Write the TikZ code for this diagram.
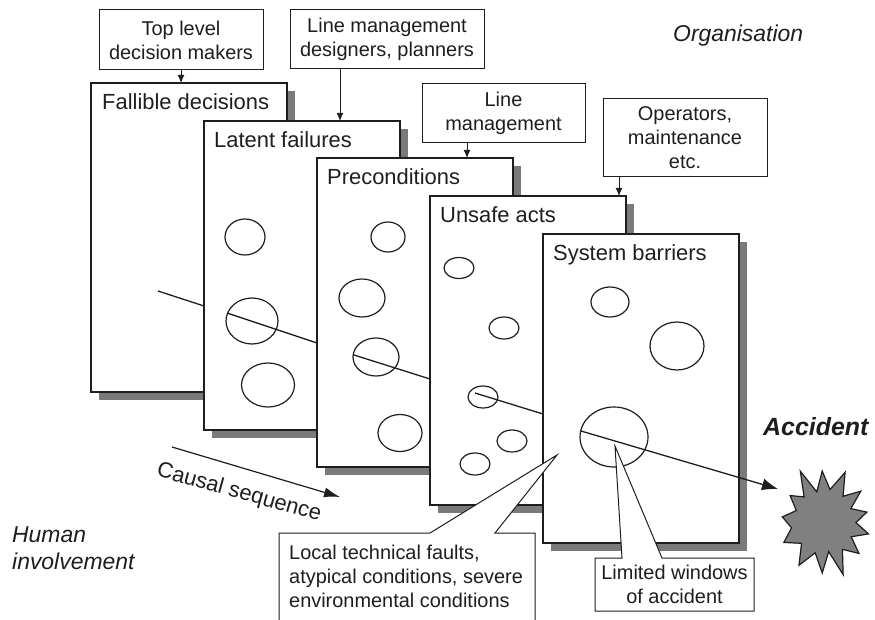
\documentclass[tikz,border=0pt]{standalone}
\usepackage{fontspec}
\setmainfont{Liberation Sans}
\usetikzlibrary{shapes.geometric,arrows.meta,calc,shadows}
\definecolor{shgray}{RGB}{122,122,122}
\definecolor{stargray}{RGB}{128,128,128}
\definecolor{ink}{RGB}{30,30,30}
\begin{document}
\begin{tikzpicture}[x=1bp,y=-1bp,
  every node/.style={text=ink},
  panel/.style={draw=ink, line width=1.3bp, fill=white, anchor=north west,
    minimum width=196bp, minimum height=309bp, inner sep=0pt, outer sep=0pt,
    general shadow={fill=shgray, shadow xshift=8bp, shadow yshift=-8bp}},
  ptitle/.style={anchor=base west, inner sep=0pt, font=\fontsize{22}{26}\selectfont},
  hole/.style 2 args={ellipse, draw=ink, line width=1.2bp, inner sep=0pt, outer sep=0pt,
    minimum width=#1bp, minimum height=#2bp},
  traj/.style={draw=ink, line width=1.3bp},
  box/.style={draw=ink, line width=1bp, fill=white, align=center, inner sep=0pt,
    font=\fontsize{20}{24}\selectfont},
  arr/.style={draw=ink, line width=1bp, -{Latex[length=8bp,width=7bp]}},
  callout/.style={draw=ink, line width=1bp, fill=white, line join=miter},
  ctext/.style={inner sep=0pt, font=\fontsize{20}{24.5}\selectfont},
  label/.style={inner sep=0pt, font=\itshape\fontsize{23}{27}\selectfont}
]
\useasboundingbox (0,0) rectangle (875,620);
\fill[white] (0,0) rectangle (875,620);

% top boxes
\node[box, minimum width=164bp, minimum height=60bp] (b1) at (181,40) {Top level\\decision makers};
\node[box, minimum width=194bp, minimum height=59bp] (b2) at (387,39.5) {Line management\\designers, planners};
\node[box, minimum width=163bp, minimum height=59bp] (b3) at (503.5,113.5) {Line\\management};
\node[box, minimum width=164bp, minimum height=78bp] (b4) at (685,138) {Operators,\\maintenance\\etc.};

\node[label, anchor=base west] (org) at (673,42) {Organisation};

% panel 1
\node[panel] (p1) at (91,83) {};
\node[ptitle] (t1) at ($(p1.north west)+(11,27)$) {Fallible decisions};
\coordinate (s1a) at (158,291);
\coordinate (s1b) at (204,306);
\draw[traj] (s1a) -- (s1b);

% panel 2
\node[panel] (p2) at (204,121) {};
\node[ptitle] (t2) at ($(p2.north west)+(10,27)$) {Latent failures};
\node[hole={40}{36}] (h21) at (245,237) {};
\node[hole={52}{46}] (h22) at (252,321) {};
\node[hole={53}{44}] (h23) at (268,385) {};
\coordinate (s2a) at (227,313);
\coordinate (s2b) at (317,343);
\draw[traj] (s2a) -- (s2b);

% panel 3
\node[panel] (p3) at (317,158) {};
\node[ptitle] (t3) at ($(p3.north west)+(10,27)$) {Preconditions};
\node[hole={34}{30}] (h31) at (388,237) {};
\node[hole={46}{38}] (h32) at (362,298) {};
\node[hole={46}{38}] (h33) at (376,357) {};
\node[hole={44}{37}] (h34) at (400,433) {};
\coordinate (s3a) at (354,355);
\coordinate (s3b) at (430,379);
\draw[traj] (s3a) -- (s3b);

% panel 4
\node[panel] (p4) at (430,196) {};
\node[ptitle] (t4) at ($(p4.north west)+(10,27)$) {Unsafe acts};
\node[hole={30}{21}] (h41) at (459,268) {};
\node[hole={30}{22}] (h42) at (504,328) {};
\node[hole={30}{22}] (h43) at (483,397) {};
\node[hole={30}{22}] (h44) at (512,441) {};
\node[hole={30}{22}] (h45) at (475,464) {};
\coordinate (s4a) at (475,393);
\coordinate (s4b) at (543,414);
\draw[traj] (s4a) -- (s4b);

% panel 5
\node[panel] (p5) at (543,234) {};
\node[ptitle] (t5) at ($(p5.north west)+(10,27)$) {System barriers};
\node[hole={38}{30}] (h51) at (610,302) {};
\node[hole={54}{48}] (h52) at (677,346) {};
\node[hole={68}{60}] (h53) at (614,437) {};
\coordinate (s5a) at (581,431);
\coordinate (s5b) at (778,489);
\draw[traj, -{Latex[length=16bp,width=12bp]}] (s5a) -- (s5b);

% arrows from the top boxes
\coordinate (a1) at ($(p1.north west)+(90,0)$);
\coordinate (a2) at ($(p2.north west)+(136,0)$);
\coordinate (a3) at ($(p3.north west)+(150,0)$);
\coordinate (a4) at ($(p4.north west)+(189,0)$);
\draw[arr] (a1 |- b1.south) -- (a1);
\draw[arr] (a2 |- b2.south) -- (a2);
\draw[arr] (a3 |- b3.south) -- (a3);
\draw[arr] (a4 |- b4.south) -- (a4);

% callout 1
\coordinate (c1tip) at (557,455);
\draw[callout] (279,620) -- (279,533) -- (430,533) -- (c1tip) -- (495,533) -- (535,533) -- (535,620);
\node[ctext, anchor=north west, align=left] (c1) at (289,544.4)
  {Local technical faults,\\atypical conditions, severe\\environmental conditions};

% callout 2
\coordinate (c2tip) at (615,446);
\draw[callout] (595,558) -- (622,558) -- (c2tip) -- (662,558) -- (754,558) -- (754,611) -- (595,611) -- cycle;
\node[ctext, anchor=north, align=center] (c2) at (674.5,564.4) {Limited windows\\of accident};

% accident
\node[anchor=base west, inner sep=0pt, font=\bfseries\itshape\fontsize{25}{30}\selectfont] (acc) at (763,435) {Accident};
\begin{scope}[shift={(824,522)}]
\draw[fill=stargray, draw=ink, line width=1.2bp, line join=miter]
  (-115:56) -- (-103.5:31) -- (-92:51) -- (-79.5:33) -- (-67:54) -- (-53.5:32) --
  (-40:48) -- (-26.5:30) -- (-13:44) -- (1:32) -- (15:46) -- (28.5:31) --
  (42:47) -- (56:33) -- (70:56) -- (81:30) -- (92:51) -- (106:32) --
  (120:50) -- (136.5:31) -- (153:45) -- (170:33) -- (187:42) -- (202.5:30) --
  (218:43) -- (231.5:32) -- cycle;
\end{scope}

% causal sequence
\coordinate (ca) at (172,447);
\coordinate (cb) at (340,497);
\draw[draw=ink, line width=1.2bp, -{Latex[length=16bp,width=10bp]}] (ca) -- (cb);
\node[inner sep=0pt, rotate=-15.5, font=\fontsize{22}{26}\selectfont] (cs) at (239,493) {Causal sequence};

% human involvement
\node[label, anchor=north west, align=left] (hum) at (12,526.5) {Human\\involvement};
\end{tikzpicture}
\end{document}
